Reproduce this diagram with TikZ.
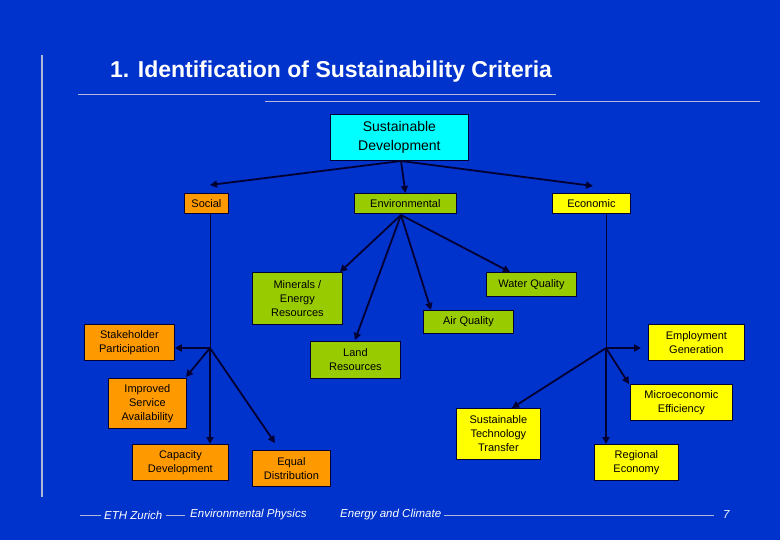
\documentclass[tikz,border=0pt]{standalone}
\usepackage{fontspec}
\setmainfont{Liberation Sans}
\usetikzlibrary{arrows.meta}
\definecolor{bg}{HTML}{0033CC}
\definecolor{org}{HTML}{FF9900}
\definecolor{grn}{HTML}{99CC00}
\definecolor{yel}{HTML}{FFFF00}
\definecolor{cyn}{HTML}{00FFFF}
\definecolor{ln}{HTML}{000033}
\definecolor{gl}{HTML}{B0B8D8}
\tikzset{
 bx/.style={draw=ln,line width=0.8pt,inner sep=0pt,align=center,font=\fontsize{11}{14}\selectfont,anchor=north west},
 ar/.style={draw=ln,line width=1.8pt,-{Triangle[length=7pt,width=7pt]}},
 th/.style={draw=ln,line width=0.8pt},
 gline/.style={draw=gl,line width=1pt},
 ft/.style={font=\fontsize{11.5}{13}\selectfont\itshape,text=white,inner sep=0pt}
}
\begin{document}
\begin{tikzpicture}[x=1pt,y=-1pt]
\useasboundingbox[fill=bg] (0,0) rectangle (780,540);
% nodes
\node[bx,fill=cyn,minimum width=138,minimum height=46,font=\fontsize{14}{19}\selectfont] (sd) at (330,114) {Sustainable\\Development};
\node[bx,fill=org,minimum width=44,minimum height=20] (soc) at (184,193) {Social};
\node[bx,fill=grn,minimum width=102,minimum height=20] (env) at (354,193) {Environmental};
\node[bx,fill=yel,minimum width=78,minimum height=20] (eco) at (552,193) {Economic};
\node[bx,fill=grn,minimum width=90,minimum height=52] (min) at (252,272) {Minerals /\\Energy\\Resources};
\node[bx,fill=grn,minimum width=90,minimum height=24] (wat) at (486,272) {Water Quality};
\node[bx,fill=grn,minimum width=90,minimum height=23] (air) at (423,310) {Air Quality};
\node[bx,fill=grn,minimum width=90,minimum height=37] (land) at (310,341) {Land\\Resources};
\node[bx,fill=org,minimum width=90,minimum height=36] (stk) at (84,324) {Stakeholder\\Participation};
\node[bx,fill=org,minimum width=78,minimum height=50] (imp) at (108,378) {Improved\\Service\\Availability};
\node[bx,fill=org,minimum width=96,minimum height=36] (cap) at (132,444) {Capacity\\Development};
\node[bx,fill=org,minimum width=78,minimum height=36] (eq) at (252,450) {Equal\\Distribution};
\node[bx,fill=yel,minimum width=96,minimum height=36] (emp) at (648,324) {Employment\\Generation};
\node[bx,fill=yel,minimum width=102,minimum height=36] (mic) at (630,384) {Microeconomic\\Efficiency};
\node[bx,fill=yel,minimum width=84,minimum height=51] (stt) at (456,408) {Sustainable\\Technology\\Transfer};
\node[bx,fill=yel,minimum width=84,minimum height=36] (reg) at (594,444) {Regional\\Economy};
% junctions
\coordinate (sdb) at (401,161);
\coordinate (js) at (210,348);
\coordinate (je) at (401,215);
\coordinate (jc) at (606,348);
% connectors
\draw[ar] (sdb) -- (210,185);
\draw[ar] (sdb) -- (env.north);
\draw[ar] (sdb) -- (593,186);
\draw[th] (soc.south -| js) -- (js);
\draw[ar] (js) -- (stk.east |- js);
\draw[ar] (js) -- (186,377);
\draw[ar] (js) -- (cap.north -| js);
\draw[ar] (js) -- (275,443);
\draw[ar] (je) -- (340,272);
\draw[ar] (je) -- (355,340);
\draw[ar] (je) -- (431,310);
\draw[ar] (je) -- (510,272);
\draw[th] (eco.south -| jc) -- (jc);
\draw[ar] (jc) -- (641,348);
\draw[ar] (jc) -- (629,384);
\draw[ar] (jc) -- (reg.north -| jc);
\draw[ar] (jc) -- (512,408);
% title & decorations
\node[anchor=west,text=white,font=\fontsize{23}{26}\selectfont\bfseries,inner sep=0pt] (title) at (110,72) {1. Identification of Sustainability Criteria};
\draw[gline] (78,95) -- (556,95);
\draw[gline] (265,102) -- (760,102);
\draw[gline,line width=2pt] (42,55) -- (42,497);
% footer
\node[ft,anchor=west] (f1) at (104,515) {ETH Zurich};
\node[ft,anchor=west] (f2) at (190,515) {Environmental Physics};
\node[ft,anchor=west] (f3) at (340,515) {Energy and Climate};
\node[ft,anchor=west] (f4) at (723,515) {7};
\draw[gline] (80,515) -- ([xshift=-3pt]f1.west);
\draw[gline] ([xshift=3pt]f1.east) -- (185,515);
\draw[gline] ([xshift=3pt]f3.east) -- (714,515);
\end{tikzpicture}
\end{document}
